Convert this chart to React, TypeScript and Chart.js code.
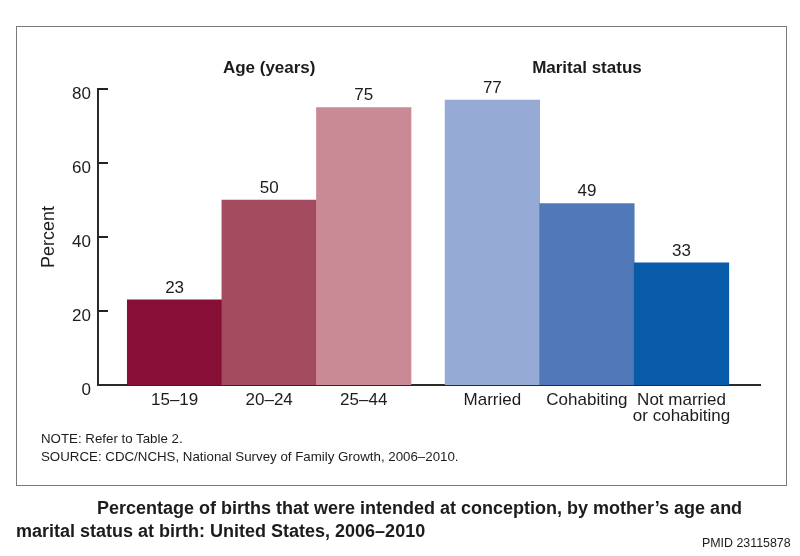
import React, { useEffect, useRef } from "react";
import { Chart, registerables } from "chart.js";

Chart.register(...registerables);

const categories: (string | string[])[] = [
  "15–19",
  "20–24",
  "25–44",
  "Married",
  "Cohabiting",
  ["Not married", "or cohabiting"],
];
const values = [23, 50, 75, 77, 49, 33];
const groups = ["Age (years)", "Marital status"];
const groupOf = [0, 0, 0, 1, 1, 1];
const colors = ["#870E36", "#A34C5F", "#C98A96", "#95AAD5", "#5179B9", "#085BA9"];
const yTicks = [0, 20, 40, 60, 80];

const FONT = '"Liberation Sans", Arial, Helvetica, sans-serif';
const TEXT = "#1c1c1c";

export default function App() {
  const canvasRef = useRef<HTMLCanvasElement | null>(null);

  useEffect(() => {
    document.body.style.margin = "0";
    const canvas = canvasRef.current;
    if (!canvas) return;

    // x positions: one unit per bar, extra gap between the two groups
    const groupGap = 0.36;
    const lead = 0.81;
    const xs = values.map((_, i) => i + lead + groupOf[i] * groupGap);
    const points = values.map((v, i) => ({ x: xs[i], y: v }));

    const overlay = {
      id: "overlay",
      afterDatasetsDraw(chart: any) {
        const { ctx, chartArea } = chart;
        const meta = chart.getDatasetMeta(0);
        const yScale = chart.scales.y;
        ctx.save();
        // inward tick marks
        ctx.strokeStyle = "#222";
        ctx.lineWidth = 2;
        yTicks.forEach((t) => {
          const py = yScale.getPixelForValue(t);
          if (t === 0) return;
          ctx.beginPath();
          ctx.moveTo(chartArea.left, py);
          ctx.lineTo(chartArea.left + 10, py);
          ctx.stroke();
        });
        // value labels
        ctx.fillStyle = TEXT;
        ctx.font = `17px ${FONT}`;
        ctx.textAlign = "center";
        ctx.textBaseline = "middle";
        meta.data.forEach((bar: any, i: number) => {
          ctx.fillText(String(values[i]), bar.x, bar.y - 12);
        });
        // group headers
        ctx.font = `bold 17px ${FONT}`;
        groups.forEach((g, gi) => {
          const idx = groupOf.map((v, i) => (v === gi ? i : -1)).filter((i) => i >= 0);
          const first = meta.data[idx[0]] as any;
          const last = meta.data[idx[idx.length - 1]] as any;
          const cx = (first.x + last.x) / 2;
          ctx.fillText(g, cx, chartArea.top - 21);
        });
        ctx.restore();
      },
    };

    const chart = new Chart(canvas, {
      type: "bar",
      data: {
        datasets: [
          {
            data: points as any,
            backgroundColor: colors,
            borderWidth: 0,
            barPercentage: 1,
            categoryPercentage: 1,
          },
        ],
      },
      options: {
        animation: false,
        responsive: true,
        maintainAspectRatio: false,
        layout: { padding: { left: 16, top: 89, right: 40, bottom: 121 } },
        plugins: {
          legend: { display: false },
          tooltip: { enabled: false },
        },
        scales: {
          x: {
            type: "linear",
            min: 0,
            max: 7,
            offset: false,
            grid: { display: false, drawTicks: false },
            border: { display: true, color: "#2a2a2a", width: 2 },
            afterBuildTicks: (scale: any) => {
              scale.ticks = xs.map((v) => ({ value: v }));
            },
            afterFit: (scale: any) => {
              scale.height = 50;
            },
            ticks: {
              autoSkip: false,
              maxRotation: 0,
              minRotation: 0,
              padding: 7,
              color: TEXT,
              font: { family: FONT, size: 17, lineHeight: 0.95 },
              callback: (_v: any, i: number) => categories[i] as any,
            },
          },
          y: {
            min: 0,
            max: 80,
            grid: { display: false, drawTicks: false },
            border: { display: true, color: "#2a2a2a", width: 2 },
            afterBuildTicks: (scale: any) => {
              scale.ticks = yTicks.map((v) => ({ value: v }));
            },
            afterFit: (scale: any) => {
              scale.width = 82;
            },
            ticks: {
              padding: 7,
              labelOffset: 5,
              color: TEXT,
              font: { family: FONT, size: 17 },
            },
            title: {
              display: true,
              text: "Percent",
              color: TEXT,
              font: { family: FONT, size: 18 },
              padding: { top: 22, bottom: 0 },
            },
          },
        },
      },
      plugins: [overlay],
    });

    return () => chart.destroy();
  }, []);

  const abs = (style: React.CSSProperties): React.CSSProperties => ({
    position: "absolute",
    whiteSpace: "nowrap",
    fontFamily: FONT,
    color: TEXT,
    ...style,
  });

  return (
    <div style={{ position: "relative", width: 800, height: 556, background: "#fff", overflow: "hidden" }}>
      <div
        style={{
          position: "absolute",
          left: 16,
          top: 26,
          width: 769,
          height: 458,
          border: "1.5px solid #7a7a7a",
        }}
      />
      <div style={{ position: "absolute", left: 0, top: 0, width: 800, height: 556 }}>
        <canvas ref={canvasRef} />
      </div>
      <div style={abs({ left: 41, top: 431, fontSize: 13.3, lineHeight: "16px" })}>NOTE: Refer to Table 2.</div>
      <div style={abs({ left: 41, top: 449, fontSize: 13.3, lineHeight: "16px" })}>
        SOURCE: CDC/NCHS, National Survey of Family Growth, 2006–2010.
      </div>
      <div style={abs({ left: 97, top: 497, fontSize: 18, fontWeight: "bold", lineHeight: "22px" })}>
        Percentage of births that were intended at conception, by mother’s age and
      </div>
      <div style={abs({ left: 16, top: 520, fontSize: 18, fontWeight: "bold", lineHeight: "22px" })}>
        marital status at birth: United States, 2006–2010
      </div>
      <div style={abs({ left: 702, top: 535, fontSize: 12.4, lineHeight: "16px" })}>PMID 23115878</div>
    </div>
  );
}
